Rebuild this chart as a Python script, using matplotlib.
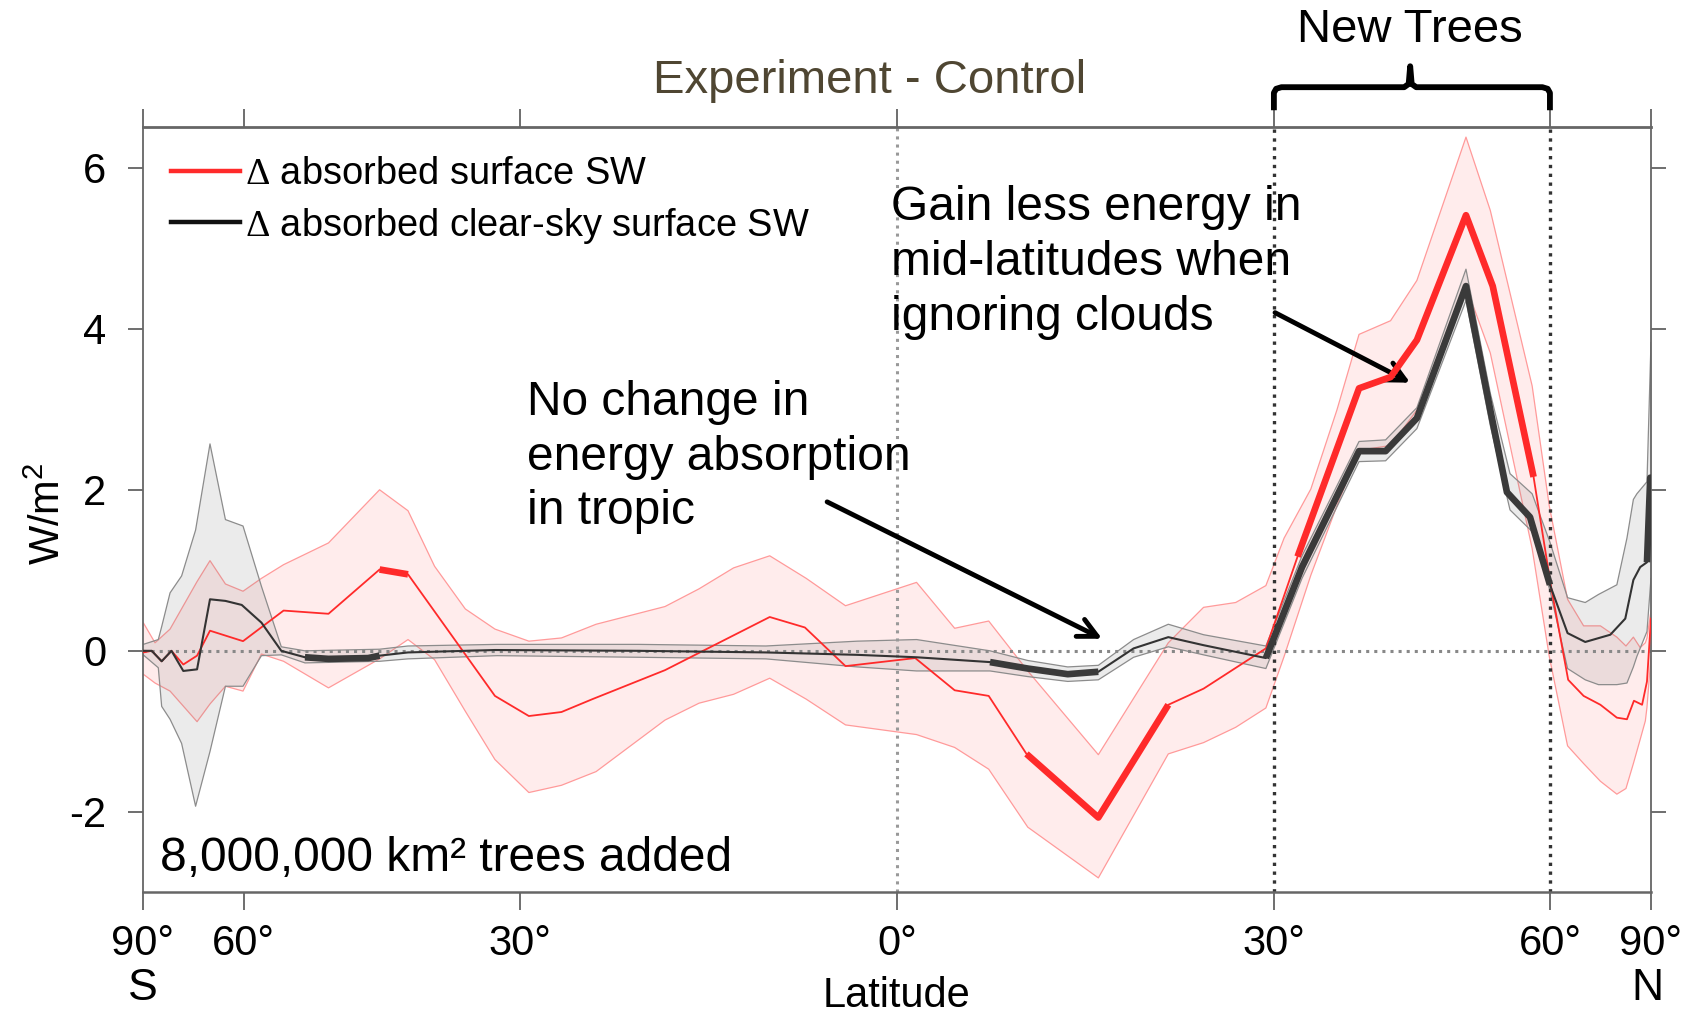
import numpy as np
import matplotlib.pyplot as plt
from matplotlib.lines import Line2D

plt.rcParams['font.family'] = ['Liberation Sans', 'DejaVu Sans']
plt.rcParams['axes.unicode_minus'] = False
plt.rcParams['mathtext.fontset'] = 'custom'
plt.rcParams['mathtext.rm'] = 'Liberation Serif'

# delta absorbed surface SW (all-sky), W/m2
sw_lat = [-90, -87.7, -81.1, -77.1, -74.1, -71.1, -68.1, -65.6, -60.1, -54.4, -48.9,
          -43.3, -40.4, -32.2, -29.2, -26.4, -23.8, -17.9, -9.7, -7.0, -3.9, 1.4,
          4.4, 7.0, 9.9, 15.5, 21.1, 24.0, 29.3, 32.1, 37.8, 40.9, 43.6, 49.0, 52.2,
          57.6, 60.2, 62.9, 65.6, 68.9, 72.7, 75.5, 77.8, 81.2, 84.1, 90]
sw_val = [0.0, -0.02, 0.0, -0.13, 0.0, -0.17, -0.06, 0.25, 0.12, 0.50, 0.46,
          1.01, 0.95, -0.56, -0.81, -0.76, -0.60, -0.24, 0.42, 0.29, -0.19, -0.09,
          -0.49, -0.56, -1.28, -2.07, -0.67, -0.47, 0.03, 1.17, 3.26, 3.40, 3.86, 5.41, 4.53,
          2.16, 0.78, -0.36, -0.56, -0.67, -0.83, -0.85, -0.62, -0.67, -0.38, 0.40]
sw_sig = [(-43.3, -40.4), (9.9, 21.1), (32.1, 57.6)]

sw_band_lat = [-90, -87.7, -79.6, -74.5, -68.1, -65.6, -62.9, -60.1, -57.4, -54.4, -48.9,
               -43.3, -40.4, -37.8, -34.9, -32.2, -29.2, -26.4, -23.5, -17.9, -15.2,
               -12.5, -9.7, -6.9, -3.9, 1.5, 4.4, 7.0, 10.0, 15.5, 21.1, 24.0, 26.7,
               29.3, 30.9, 33.3, 35.7, 37.8, 40.9, 43.6, 49.0, 51.9, 57.4, 59.9, 62.8,
               65.6, 68.9, 72.7, 75.2, 77.6, 80.3, 83.0, 84.1, 90]
sw_hi = [0.35, 0.35, 0.10, 0.27, 0.86, 1.12, 0.83, 0.74, 0.90, 1.07, 1.34,
         2.00, 1.74, 1.05, 0.52, 0.27, 0.12, 0.16, 0.33, 0.55, 0.77,
         1.03, 1.18, 0.90, 0.56, 0.85, 0.28, 0.37, -0.25, -1.29, 0.10, 0.54, 0.60,
         0.81, 1.40, 2.01, 2.99, 3.93, 4.10, 4.60, 6.38, 5.47, 3.29, 1.80, 0.64,
         0.31, 0.31, 0.17, 0.06, 0.17, 0.04, 0.10, 0.16, 0.50]
sw_lo = [-0.30, -0.29, -0.40, -0.50, -0.88, -0.66, -0.44, -0.50, -0.04, -0.13, -0.46,
         -0.10, 0.14, -0.11, -0.75, -1.35, -1.76, -1.67, -1.50, -0.86, -0.65,
         -0.54, -0.34, -0.60, -0.92, -1.04, -1.20, -1.47, -2.19, -2.82, -1.28, -1.14, -0.95,
         -0.71, -0.07, 0.94, 1.80, 2.49, 2.55, 2.99, 4.53, 3.70, 1.27, -0.07, -1.18,
         -1.40, -1.62, -1.78, -1.71, -1.40, -1.10, -0.87, -0.70, -0.07]

# delta absorbed clear-sky surface SW, W/m2
cs_lat = [-90, -87.7, -81.1, -77.1, -74.1, -71.1, -68.1, -65.6, -62.9, -60.3, -57.4,
          -54.7, -51.7, -48.9, -44.5, -43.3, -40.4, -32.2, -20.0, -10.0, -3.0, 1.5,
          7.1, 10.0, 13.1, 15.5, 18.3, 21.1, 24.0, 29.3, 32.5, 37.8, 40.4, 43.6,
          49.0, 51.9, 54.0, 57.1, 60.0, 62.8, 65.9, 71.1, 75.0, 77.6, 80.3, 84.1,
          87.5, 90]
cs_val = [0.0, 0.0, 0.0, -0.13, 0.0, -0.25, -0.23, 0.64, 0.62, 0.57, 0.35,
          0.0, -0.08, -0.10, -0.09, -0.06, -0.02, 0.01, 0.0, -0.02, -0.05, -0.08,
          -0.14, -0.22, -0.29, -0.26, 0.03, 0.17, 0.07, -0.09, 1.04, 2.48, 2.48, 2.89,
          4.53, 2.99, 1.97, 1.66, 0.82, 0.22, 0.11, 0.20, 0.40, 0.88, 1.04, 1.10,
          2.15, 2.15]
cs_sig = [(-51.7, -43.3), (7.1, 15.5), (29.3, 60.0), (84.1, 90)]

cs_band_lat = [-90, -87.7, -78.3, -77.1, -74.5, -71.5, -68.4, -65.6, -62.9, -60.1, -57.4,
               -54.7, -51.7, -43.3, -40.4, -32.0, -20.0, -10.0, -3.0, 1.5, 7.1, 10.0,
               13.1, 15.5, 18.3, 21.1, 24.0, 29.3, 32.5, 37.8, 40.4, 43.6, 49.0, 51.9,
               54.4, 57.4, 60.0, 62.8, 65.9, 68.5, 72.7, 75.5, 77.6, 78.9, 84.1, 90]
cs_hi = [0.08, 0.08, 0.14, 0.30, 0.72, 0.93, 1.50, 2.57, 1.63, 1.55, 0.80,
         0.05, 0.00, 0.02, 0.06, 0.08, 0.08, 0.06, 0.12, 0.14, 0.00, -0.12,
         -0.20, -0.18, 0.14, 0.33, 0.20, 0.06, 1.18, 2.60, 2.62, 3.02, 4.74, 3.20,
         2.20, 1.95, 1.35, 0.66, 0.60, 0.70, 0.82, 1.40, 1.88, 1.95, 2.10, 3.83]
cs_lo = [-0.05, -0.05, -0.21, -0.69, -0.85, -1.15, -1.93, -1.25, -0.44, -0.44, -0.06,
         -0.05, -0.15, -0.13, -0.10, -0.06, -0.08, -0.10, -0.20, -0.25, -0.25, -0.32,
         -0.38, -0.36, -0.08, 0.05, -0.05, -0.22, 0.90, 2.35, 2.36, 2.76, 4.35, 2.80,
         1.75, 1.48, 0.75, -0.22, -0.36, -0.42, -0.42, -0.40, -0.20, -0.07, 0.24, 0.90]

lat_ticks = [-90, -60, -30, 0, 30, 60, 90]
lat_labels = ['90°', '60°', '30°', '0°', '30°', '60°', '90°']
y_ticks = [-2, 0, 2, 4, 6]

RED = '#ff2a2a'
DARK = '#333333'


def sx(lat):
    # area weighted axis: x = sin(latitude)
    return np.sin(np.radians(np.asarray(lat, dtype=float)))


fig = plt.figure(figsize=(16.94, 10.18), dpi=100)
ax = fig.add_axes([0.0842, 0.1234, 0.8904, 0.7514])

# spread bands
ax.fill_between(sx(sw_band_lat), sw_lo, sw_hi, facecolor='#ff8080', alpha=0.15,
                edgecolor='none', zorder=1)
ax.plot(sx(sw_band_lat), sw_hi, color='#ff9a9a', lw=0.9, zorder=1.1)
ax.plot(sx(sw_band_lat), sw_lo, color='#ff9a9a', lw=0.9, zorder=1.1)
ax.fill_between(sx(cs_band_lat), cs_lo, cs_hi, facecolor='#7a7a7a', alpha=0.15,
                edgecolor='none', zorder=1.2)
ax.plot(sx(cs_band_lat), cs_hi, color='#8c8c8c', lw=0.9, zorder=1.3)
ax.plot(sx(cs_band_lat), cs_lo, color='#8c8c8c', lw=0.9, zorder=1.3)

# reference lines
ax.axhline(0, color='#888888', ls=':', lw=2.2, zorder=2)
ax.axvline(sx(0), color='#999999', ls=':', lw=2.2, zorder=2)
for la in [30, 60]:
    ax.axvline(sx(la), color='#333333', ls=':', lw=2.4, zorder=2)

# mean lines, thick where significant
ax.plot(sx(sw_lat), sw_val, color=RED, lw=1.3, zorder=3)
ax.plot(sx(cs_lat), cs_val, color=DARK, lw=1.5, zorder=4)
for lats, vals, sig, col in [(sw_lat, sw_val, sw_sig, RED), (cs_lat, cs_val, cs_sig, '#3a3a3a')]:
    la = np.asarray(lats)
    va = np.asarray(vals)
    for a, b in sig:
        m = (la >= a - 0.01) & (la <= b + 0.01)
        ax.plot(sx(la[m]), va[m], color=col, lw=4.8, solid_capstyle='butt',
                zorder=3.5 if col == RED else 4.5)

ax.set_xlim(-1, 1)
ax.set_ylim(-3, 6.5)
ax.set_xticks(sx(lat_ticks))
ax.set_xticklabels(lat_labels)
ax.set_yticks(y_ticks)
ax.set_yticklabels([str(v) for v in y_ticks])
ax.tick_params(axis='x', direction='out', length=13, width=1.2, color='#555555',
               top=True, labelsize=30, pad=10)
ax.tick_params(axis='y', direction='out', length=11, width=1.2, color='#555555',
               right=True, labelsize=30, pad=15)
for sp in ax.spines.values():
    sp.set_color('#666666')
    sp.set_linewidth(1.3)
ax.spines['top'].set_linewidth(2.0)
ax.spines['bottom'].set_linewidth(1.8)

# legend
handles = [Line2D([], [], color=RED, lw=3.2),
           Line2D([], [], color='#111111', lw=3.2)]
ax.legend(handles, [r'$\Delta$ absorbed surface SW', r'$\Delta$ absorbed clear-sky surface SW'],
          loc='upper left', frameon=False, fontsize=27.4, handlelength=1.8,
          handletextpad=0.15, borderaxespad=0.35, borderpad=0.4, labelspacing=0.36)

# annotations
ax.text(0.4964, 0.8234, 'Gain less energy in\nmid-latitudes when\nignoring clouds',
        transform=ax.transAxes, fontsize=34.5, ha='left', va='center', linespacing=1.28)
ax.text(0.255, 0.569, 'No change in\nenergy absorption\nin tropic',
        transform=ax.transAxes, fontsize=34.5, ha='left', va='center', linespacing=1.28)
ax.text(0.0115, 0.0438, '8,000,000 km² trees added', transform=ax.transAxes,
        fontsize=34.5, ha='left', va='center')

arrow = dict(arrowstyle='->', lw=3.5, color='black', mutation_scale=34,
             shrinkA=0, shrinkB=0)
ax.annotate('', xy=(sx(15.8), 0.15), xytext=(sx(-5.3), 1.85), arrowprops=arrow)
ax.annotate('', xy=(sx(42.9), 3.33), xytext=(sx(30.1), 4.20), arrowprops=arrow)

# brace over the new-tree latitudes
bx0, bx1 = sx(30), sx(60)
bm = sx(42.9)
brace_x = [bx0, bx0, bx0 + 0.003, bx0 + 0.01, bm - 0.008, bm - 0.002, bm,
           bm + 0.002, bm + 0.008, bx1 - 0.01, bx1 - 0.003, bx1, bx1]
brace_y = [6.75, 6.93, 6.98, 7.0, 7.0, 7.04, 7.26, 7.04, 7.0, 7.0, 6.98, 6.93, 6.75]
ax.plot(brace_x, brace_y, color='black', lw=4.2, clip_on=False,
        solid_joinstyle='round', zorder=6)

fig.text(0.5134, 0.9204, 'Experiment - Control', fontsize=34, color='#4f4632',
         ha='center', va='center')
fig.text(0.8323, 0.9703, 'New Trees', fontsize=34, ha='center', va='center')
fig.text(0.0287, 0.4958, r'W/m$^\mathregular{2}$', fontsize=30, rotation=90,
         ha='center', va='center')
fig.text(0.5293, 0.0212, 'Latitude', fontsize=30, ha='center', va='center')
fig.text(0.0842, 0.0287, 'S', fontsize=32, ha='center', va='center')
fig.text(0.9726, 0.0287, 'N', fontsize=32, ha='center', va='center')

fig.savefig('out.png', dpi=100)
